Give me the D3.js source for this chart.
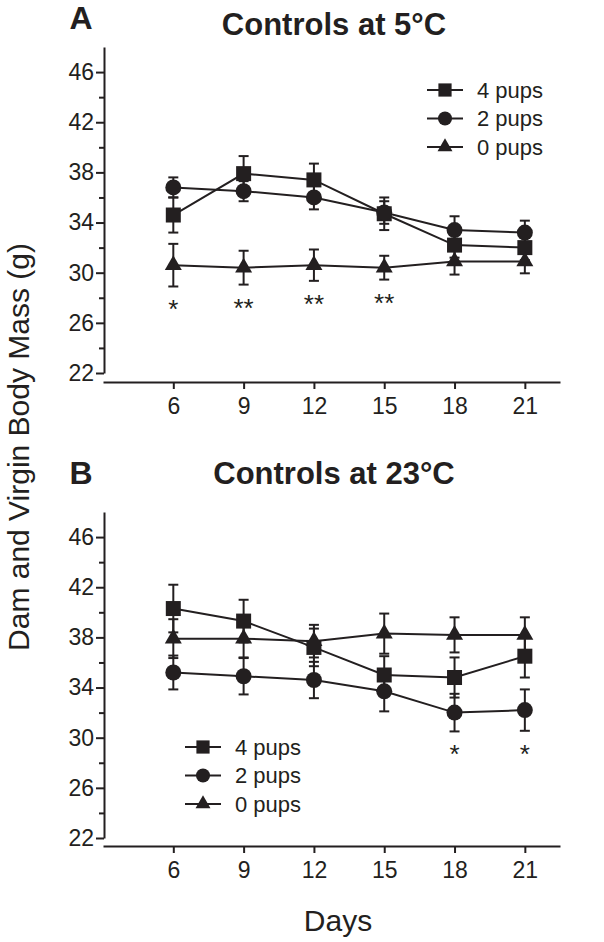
<!DOCTYPE html>
<html>
<head>
<meta charset="utf-8">
<script src="https://cdn.jsdelivr.net/npm/d3@7"></script>
<style>
  html, body { margin: 0; padding: 0; background: #fff; }
  svg { display: block; }
  text { font-family: "Liberation Sans", Arial, sans-serif; fill: #231f20; }
</style>
</head>
<body>
<svg id="chart" width="604" height="942"></svg>
<script>
// ---- data ----
const days = [6, 9, 12, 15, 18, 21];
const seriesNames = ["4 pups", "2 pups", "0 pups"];
const seriesShapes = ["square", "circle", "triangle"];
const yTicks = [22, 26, 30, 34, 38, 42, 46];
const yMinorTicks = [24, 28, 32, 36, 40, 44];

// Panel A: Controls at 5°C
const a4pups = [34.6, 37.9, 37.4, 34.7, 32.2, 32.0];
const a4pupsSE = [1.4, 1.4, 1.3, 1.3, 1.0, 1.0];
const a2pups = [36.8, 36.5, 36.0, 34.8, 33.4, 33.2];
const a2pupsSE = [0.8, 0.8, 0.95, 0.9, 1.1, 0.95];
const a0pups = [30.6, 30.4, 30.6, 30.4, 30.9, 30.9];
const a0pupsSE = [1.7, 1.35, 1.25, 0.95, 1.05, 0.95];
const aSig = ["*", "**", "**", "**", "", ""];

// Panel B: Controls at 23°C
const b4pups = [40.3, 39.3, 37.2, 35.0, 34.8, 36.5];
const b4pupsSE = [1.9, 1.7, 1.5, 1.5, 1.6, 1.7];
const b2pups = [35.2, 34.9, 34.6, 33.7, 32.0, 32.2];
const b2pupsSE = [1.35, 1.45, 1.45, 1.6, 1.5, 1.65];
const b0pups = [37.9, 37.9, 37.7, 38.3, 38.2, 38.2];
const b0pupsSE = [1.55, 1.5, 1.3, 1.6, 1.4, 1.4];
const bSig = ["", "", "", "", "*", "*"];

// ---- layout ----
const svg = d3.select("#chart");
const ink = "#231f20";
const x = d3.scaleLinear().domain([3, 22.5]).range([103, 560]);

const panels = [
  { letter: "A", title: "Controls at 5\u00B0C", top: 47, bottom: 373, xAxisY: 382,
    letterY: 29, titleY: 35,
    values: [a4pups, a2pups, a0pups], errs: [a4pupsSE, a2pupsSE, a0pupsSE], sig: aSig,
    legend: { x: 427, y: 90 } },
  { letter: "B", title: "Controls at 23\u00B0C", top: 512, bottom: 838, xAxisY: 846,
    letterY: 484, titleY: 484,
    values: [b4pups, b2pups, b0pups], errs: [b4pupsSE, b2pupsSE, b0pupsSE], sig: bSig,
    legend: { x: 185, y: 747 } }
];

function drawMarker(g, shape, cx, cy, legend) {
  const k = legend ? 0.88 : 1;
  if (shape === "square") {
    const s = 15 * k;
    g.append("rect").attr("x", cx - s / 2).attr("y", cy - s / 2).attr("width", s).attr("height", s).attr("fill", ink);
  } else if (shape === "circle") {
    g.append("circle").attr("cx", cx).attr("cy", cy).attr("r", 8 * k).attr("fill", ink);
  } else {
    const side = 17 * k;
    g.append("path").attr("d", d3.symbol(d3.symbolTriangle, side * side * Math.sqrt(3) / 4)())
      .attr("transform", `translate(${cx},${cy})`).attr("fill", ink);
  }
}

panels.forEach(p => {
  const y = d3.scaleLinear().domain([22, 48]).range([p.bottom, p.top]);
  const g = svg.append("g");

  // Panel letter & title
  g.append("text").attr("x", 81).attr("y", p.letterY).attr("text-anchor", "middle")
    .attr("font-size", 32).attr("font-weight", "bold").text(p.letter);
  g.append("text").attr("x", 334).attr("y", p.titleY).attr("text-anchor", "middle")
    .attr("font-size", 31).attr("font-weight", "bold").text(p.title);

  // Y axis
  g.append("g").attr("transform", "translate(104,0)")
    .call(d3.axisLeft(y).tickValues(yTicks).tickSize(8).tickSizeOuter(0).tickPadding(2).tickFormat(d3.format("d")));
  g.append("g").attr("transform", "translate(104,0)")
    .call(d3.axisLeft(y).tickValues(yMinorTicks).tickSize(5).tickSizeOuter(0).tickFormat(""))
    .select(".domain").remove();
  // X axis
  g.append("g").attr("transform", `translate(0,${p.xAxisY})`)
    .call(d3.axisBottom(x).tickValues(days).tickSize(7).tickSizeOuter(0).tickPadding(9).tickFormat(d3.format("d")));
  g.selectAll(".domain, .tick line").attr("stroke", ink).attr("stroke-width", 2);
  g.selectAll(".tick text").attr("font-size", 23).attr("fill", ink)
    .attr("font-family", "'Liberation Sans', Arial, sans-serif");

  // Lines
  const line = d3.line().x((d, i) => x(days[i])).y(d => y(d));
  p.values.forEach(vals => {
    g.append("path").attr("d", line(vals)).attr("fill", "none").attr("stroke", ink).attr("stroke-width", 2);
  });
  // Error bars
  p.values.forEach((vals, s) => {
    vals.forEach((v, i) => {
      const e = p.errs[s][i];
      const cx = x(days[i]);
      g.append("line").attr("x1", cx).attr("x2", cx).attr("y1", y(v - e)).attr("y2", y(v + e))
        .attr("stroke", ink).attr("stroke-width", 2);
      [v - e, v + e].forEach(t => {
        g.append("line").attr("x1", cx - 5).attr("x2", cx + 5).attr("y1", y(t)).attr("y2", y(t))
          .attr("stroke", ink).attr("stroke-width", 2);
      });
    });
  });
  // Markers
  p.values.forEach((vals, s) => {
    vals.forEach((v, i) => drawMarker(g, seriesShapes[s], x(days[i]), y(v), false));
  });
  // Significance asterisks
  p.sig.forEach((lab, i) => {
    if (!lab) return;
    const low = d3.min(p.values, (vals, s) => vals[i] - p.errs[s][i]);
    g.append("text").attr("x", x(days[i])).attr("y", y(low) + 32).attr("text-anchor", "middle")
      .attr("font-size", 26).text(lab);
  });
  // Legend
  seriesNames.forEach((name, s) => {
    const ly = p.legend.y + s * 28.5;
    g.append("line").attr("x1", p.legend.x).attr("x2", p.legend.x + 36).attr("y1", ly).attr("y2", ly)
      .attr("stroke", ink).attr("stroke-width", 2);
    drawMarker(g, seriesShapes[s], p.legend.x + 18, ly, true);
    g.append("text").attr("x", p.legend.x + 50).attr("y", ly).attr("dy", "0.35em")
      .attr("font-size", 22).text(name);
  });
});

// Shared axis titles
svg.append("text").attr("transform", "translate(29,447) rotate(-90)").attr("text-anchor", "middle")
  .attr("font-size", 30).text("Dam and Virgin Body Mass (g)");
svg.append("text").attr("x", 338).attr("y", 931).attr("text-anchor", "middle")
  .attr("font-size", 30).text("Days");
</script>
</body>
</html>
